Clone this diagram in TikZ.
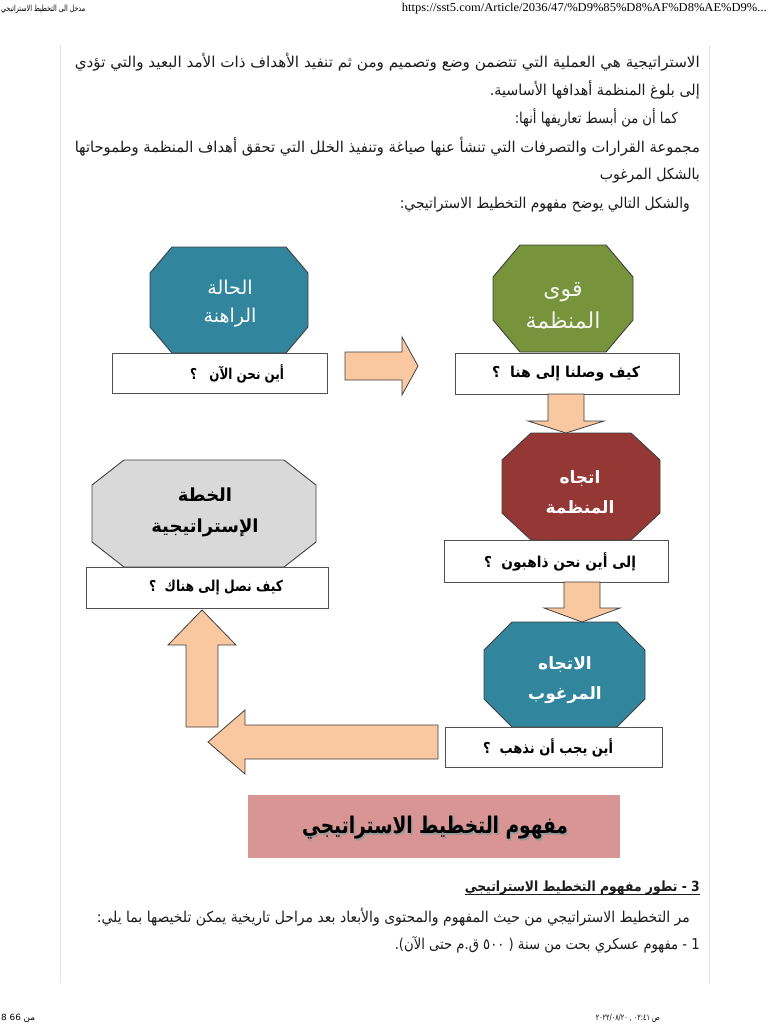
\documentclass[tikz,border=0pt]{standalone}
\usepackage{fontspec}
\usepackage{graphicx}
\setmainfont{Liberation Serif}
\newfontfamily\ar[Script=Arabic]{DejaVu Sans}
\TeXXeTstate=1
\usetikzlibrary{calc}
\definecolor{tealc}{HTML}{31859C}
\definecolor{greenc}{HTML}{77933C}
\definecolor{redc}{HTML}{953735}
\definecolor{grayc}{HTML}{D9D9D9}
\definecolor{peach}{HTML}{F9C8A0}
\definecolor{pinkc}{HTML}{D99594}
\definecolor{octline}{HTML}{404040}
\definecolor{boxline}{HTML}{505050}
\definecolor{bodytext}{HTML}{1C1C1C}
\definecolor{framec}{HTML}{E2E2E2}
\tikzset{
  octa/.style={draw=octline, line width=0.9pt, line join=miter},
  qbox/.style={draw=boxline, line width=1pt, fill=white, rectangle, inner sep=0pt},
  qtext/.style={inner sep=0pt, text=black, font=\ar\bfseries\fontsize{15}{17}\selectfont},
  octext/.style={inner sep=0pt, text=white, align=center},
  barrow/.style={fill=peach, draw=octline, line width=0.8pt, line join=miter},
  bodyline/.style={anchor=east, inner sep=0pt, text=bodytext, font=\ar\fontsize{15}{17}\selectfont},
}
% octagon: name x1 y1 x2 y2 cutx cuty style
\newcommand\octa[8]{%
  \path[octa,#8] ({#2+#6},#3) -- ({#4-#6},#3) -- (#4,{#3+#7}) -- (#4,{#5-#7})
    -- ({#4-#6},#5) -- ({#2+#6},#5) -- (#2,{#5-#7}) -- (#2,{#3+#7}) -- cycle;
  \coordinate (#1) at ({(#2+#4)/2},{(#3+#5)/2});}
% horizontal block arrow: start, tip, body half, head half, head length (signed)
\newcommand\harrow[5]{%
  \path[barrow] let \p1=(#1), \p2=(#2) in
   (\x1,{\y1+#3pt}) -- ({\x2-(#5pt)},{\y1+#3pt}) -- ({\x2-(#5pt)},{\y1+#4pt}) -- (\x2,\y2)
   -- ({\x2-(#5pt)},{\y1-#4pt}) -- ({\x2-(#5pt)},{\y1-#3pt}) -- (\x1,{\y1-#3pt}) -- cycle;}
% vertical block arrow
\newcommand\varrow[5]{%
  \path[barrow] let \p1=(#1), \p2=(#2) in
   ({\x1-#3pt},\y1) -- ({\x1-#3pt},{\y2+(#5pt)}) -- ({\x1-#4pt},{\y2+(#5pt)}) -- (\x2,\y2)
   -- ({\x1+#4pt},{\y2+(#5pt)}) -- ({\x1+#3pt},{\y2+(#5pt)}) -- ({\x1+#3pt},\y1) -- cycle;}
% right-aligned text line fitted to a width: name, right x, y, width, text
\newcommand\rl[5]{\node[bodyline] (#1) at (#2,#3) {\resizebox{#4pt}{\height}{#5}};}

\begin{document}
\begin{tikzpicture}[x=1pt,y=-1pt]
\useasboundingbox (0,0) rectangle (768,1024);
\fill[white] (0,0) rectangle (768,1024);

% header and footer
\node[anchor=west, inner sep=0pt, font=\ar\fontsize{8.5}{9}\selectfont] (hl) at (1,9)
  {\resizebox{84pt}{\height}{\beginR مدخل الى التخطيط الاستراتيجي\endR}};
\node[anchor=east, inner sep=0pt, font=\fontsize{12}{13}\selectfont] (hu) at (767,9)
  {\resizebox{365pt}{\height}{https://sst5.com/Article/2036/47/\%D9\%85\%D8\%AF\%D8\%AE\%D9\%...}};
\node[anchor=west, inner sep=0pt, font=\ar\fontsize{8.5}{9}\selectfont] (fl) at (1,1018)
  {\resizebox{34pt}{\height}{\beginR من 66 8\endR}};
\node[anchor=east, inner sep=0pt, font=\ar\fontsize{8.5}{9}\selectfont] (fr) at (660,1018)
  {\resizebox{64pt}{\height}{\beginR ص ٠٢:٤١ , ٢٠٢٢/٠٨/٢٠\endR}};

% page frame
\draw[framec, line width=1pt] (60,45) coordinate (fa) -- (60,983) coordinate (fb);
\draw[framec, line width=1pt] (709,45) coordinate (fc) -- (709,983) coordinate (fd);

% paragraph text
\rl{l1}{700}{62}{625}{\beginR الاستراتيجية هي العملية التي تتضمن وضع وتصميم ومن ثم تنفيد الأهداف ذات الأمد البعيد والتي تؤدي\endR}
\rl{l2}{700}{90}{210}{\beginR إلى بلوغ المنظمة أهدافها الأساسية.\endR}
\rl{l3}{678}{118}{163}{\beginR كما أن من أبسط تعاريفها أنها:\endR}
\rl{l4}{700}{147}{625}{\beginR مجموعة القرارات والتصرفات التي تنشأ عنها صياغة وتنفيذ الخلل التي تحقق أهداف المنظمة وطموحاتها\endR}
\rl{l5}{700}{176}{100}{\beginR بالشكل المرغوب\endR}
\rl{l6}{690}{205}{290}{\beginR والشكل التالي يوضح مفهوم التخطيط الاستراتيجي:\endR}

% octagons
\octa{o1}{150}{247}{308}{353}{22}{26}{fill=tealc}
\octa{o2}{493}{245}{633}{352}{27}{32}{fill=greenc}
\octa{o3}{502}{433}{660}{540}{29}{27}{fill=redc}
\octa{o4}{484}{622}{645}{727}{28}{28}{fill=tealc}
\octa{o5}{92}{460}{316}{567}{32}{25}{fill=grayc}

\node[octext, font=\ar\fontsize{19}{28}\selectfont] (t1) at (230,304) {\beginR الحالة\endR\\\beginR الراهنة\endR};
\node[octext, text=white!92!greenc, font=\ar\fontsize{22}{32}\selectfont] (t2) at (563,306) {\beginR قوى\endR\\\beginR المنظمة\endR};
\node[octext, font=\ar\bfseries\fontsize{17}{30}\selectfont] (t3) at (580,492) {\beginR اتجاه\endR\\\beginR المنظمة\endR};
\node[octext, font=\ar\bfseries\fontsize{17}{30}\selectfont] (t4) at (565,680) {\beginR الاتجاه\endR\\\beginR المرغوب\endR};
\node[octext, text=black, font=\ar\bfseries\fontsize{18}{31}\selectfont] (t5) at (205,512) {\beginR الخطة\endR\\\beginR الإستراتيجية\endR};

% question boxes
\node[qbox, minimum width=215pt, minimum height=40pt] (b1) at (219.5,373) {};
\node[qbox, minimum width=224pt, minimum height=41pt] (b2) at (567,373.5) {};
\node[qbox, minimum width=224pt, minimum height=42pt] (b3) at (556,561) {};
\node[qbox, minimum width=217pt, minimum height=40pt] (b4) at (553.5,747) {};
\node[qbox, minimum width=242pt, minimum height=41pt] (b5) at (207,587.5) {};

\node[qtext] (q1) at (237,374) {\resizebox{94pt}{\height}{\beginR أين نحن الآن \ \ ؟\endR}};
\node[qtext] (q2) at (566,374) {\resizebox{148pt}{\height}{\beginR كيف وصلنا إلى هنا \ ؟\endR}};
\node[qtext] (q3) at (560,562) {\resizebox{152pt}{\height}{\beginR إلى أين نحن ذاهبون \ ؟\endR}};
\node[qtext] (q4) at (548,748) {\resizebox{130pt}{\height}{\beginR أين يجب أن نذهب \ ؟\endR}};
\node[qtext] (q5) at (216,588) {\resizebox{134pt}{\height}{\beginR كيف نصل إلى هناك \ ؟\endR}};

% block arrows
\coordinate (a1s) at (345,366); \coordinate (a1e) at (418,366);
\coordinate (a2s) at (566,394); \coordinate (a2e) at (566,433);
\coordinate (a3s) at (582,582); \coordinate (a3e) at (582,622);
\coordinate (a4s) at (438,742); \coordinate (a4e) at (208,742);
\coordinate (a5s) at (202,727); \coordinate (a5e) at (202,610);
\harrow{a1s}{a1e}{14}{29}{16}
\varrow{a2s}{a2e}{18}{38}{12}
\varrow{a3s}{a3e}{18}{38}{14}
\harrow{a4s}{a4e}{17}{32}{-37}
\varrow{a5s}{a5e}{16}{34}{-35}

% title
\node[fill=pinkc, minimum width=372pt, minimum height=63pt, inner sep=0pt] (title) at (434,826.5) {};
\node[inner sep=0pt, text=black!40, font=\ar\bfseries\fontsize{23}{26}\selectfont] (titsh) at (436.4,829.4)
  {\resizebox{266pt}{\height}{\beginR مفهوم التخطيط الاستراتيجي\endR}};
\node[inner sep=0pt, text=black, font=\ar\bfseries\fontsize{23}{26}\selectfont] (tit) at (435,828)
  {\resizebox{266pt}{\height}{\beginR مفهوم التخطيط الاستراتيجي\endR}};

% lower text
\node[bodyline, font=\ar\bfseries\fontsize{14}{16}\selectfont] (l7) at (700,888)
  {\resizebox{235pt}{\height}{\beginR 3 - تطور مفهوم التخطيط الاستراتيجي\endR}};
\draw[bodytext, line width=0.9pt] ($(l7.south west)+(0,-1)$) -- ($(l7.south east)+(0,-1)$);
\rl{l8}{690}{917}{593}{\beginR مر التخطيط الاستراتيجي من حيث المفهوم والمحتوى والأبعاد بعد مراحل تاريخية يمكن تلخيصها بما يلي:\endR}
\rl{l9}{700}{945}{305}{\beginR 1 - مفهوم عسكري بحت من سنة ( ٥٠٠ ق.م حتى الآن).\endR}
\end{tikzpicture}
\end{document}
